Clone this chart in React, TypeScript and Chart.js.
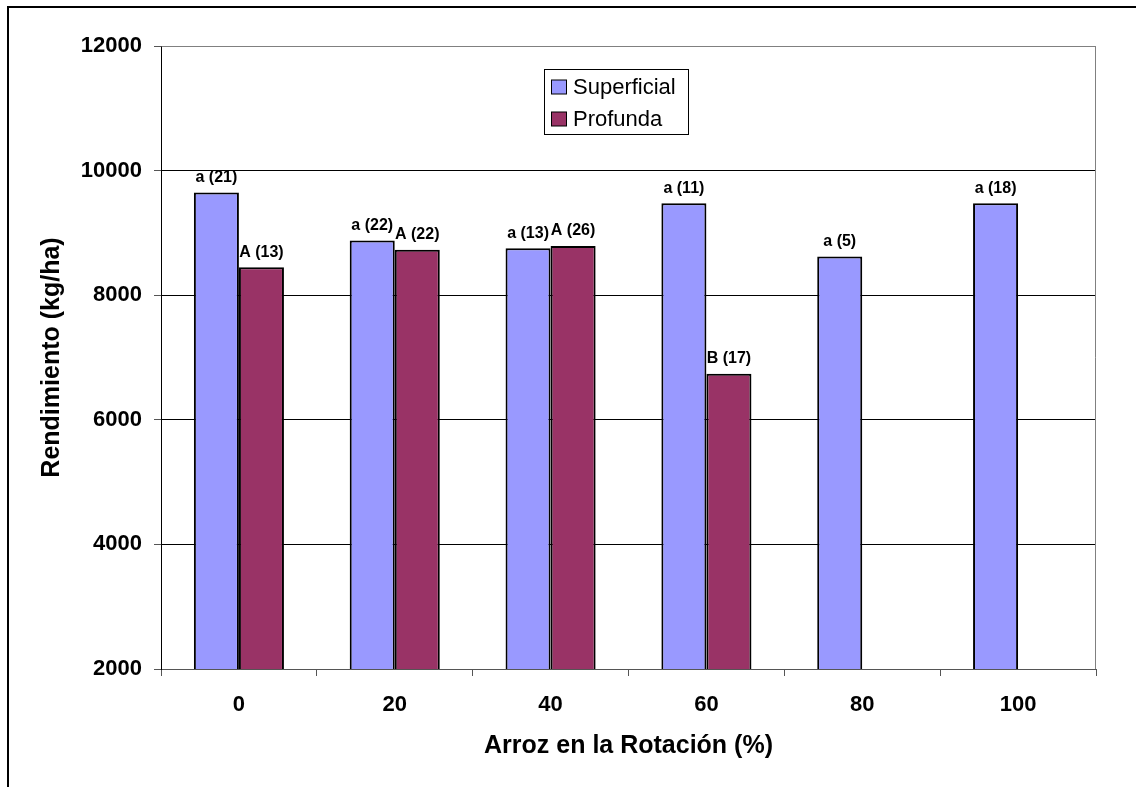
import { useEffect, useRef } from 'react';
import { Chart, registerables } from 'chart.js';

Chart.register(...registerables);

const categories = ['0', '20', '40', '60', '80', '100'];
const seriesNames = ['Superficial', 'Profunda'];
const superficial = [9650, 8880, 8755, 9475, 8620, 9475];
const profunda: (number | null)[] = [8450, 8730, 8790, 6740, null, null];
const superficialLabels = ['a (21)', 'a (22)', 'a (13)', 'a (11)', 'a (5)', 'a (18)'];
const profundaLabels = ['A (13)', 'A (22)', 'A (26)', 'B (17)', '', ''];
const yMin = 2000;
const yMax = 12000;
const yStep = 2000;
const xTitle = 'Arroz en la Rotación (%)';
const yTitle = 'Rendimiento (kg/ha)';
const seriesColors = ['#9999FF', '#993366'];

const FONT = "'Liberation Sans', Arial, sans-serif";

const framePlugin = {
  id: 'frame',
  beforeDraw(chart: any) {
    const ctx = chart.ctx;
    ctx.save();
    ctx.fillStyle = '#ffffff';
    ctx.fillRect(0, 0, chart.width, chart.height);
    ctx.strokeStyle = '#000';
    ctx.lineWidth = 2;
    ctx.strokeRect(8, 7, 2000, 2000);
    ctx.restore();
  },
  afterDraw(chart: any) {
    const ctx = chart.ctx;
    const a = chart.chartArea;
    ctx.save();
    ctx.strokeStyle = '#808080';
    ctx.lineWidth = 1;
    ctx.beginPath();
    ctx.moveTo(Math.round(a.left) + 0.5, Math.round(a.top) + 0.5);
    ctx.lineTo(Math.round(a.right) - 0.5, Math.round(a.top) + 0.5);
    ctx.lineTo(Math.round(a.right) - 0.5, Math.round(a.bottom));
    ctx.stroke();

    // data labels
    const labelSets = [superficialLabels, profundaLabels];
    ctx.fillStyle = '#000';
    ctx.font = `bold 16px ${FONT}`;
    ctx.textAlign = 'center';
    ctx.textBaseline = 'middle';
    chart.data.datasets.forEach((ds: any, di: number) => {
      const meta = chart.getDatasetMeta(di);
      meta.data.forEach((bar: any, i: number) => {
        const v = ds.data[i];
        const t = labelSets[di][i];
        if (v == null || !t) return;
        ctx.fillText(t, bar.x, bar.y - 15);
      });
    });

    // legend
    const lx = 544.5, ly = 69.5, lw = 144, lh = 65;
    ctx.fillStyle = '#fff';
    ctx.fillRect(lx, ly, lw, lh);
    ctx.strokeStyle = '#000';
    ctx.lineWidth = 1;
    ctx.strokeRect(lx, ly, lw, lh);
    ctx.font = `22px ${FONT}`;
    ctx.textAlign = 'left';
    ctx.textBaseline = 'middle';
    seriesNames.forEach((name, i) => {
      const cy = 87 + i * 32;
      ctx.fillStyle = seriesColors[i];
      ctx.fillRect(551.5, cy - 7, 15, 14);
      ctx.strokeStyle = '#000';
      ctx.strokeRect(551.5, cy - 7, 15, 14);
      ctx.fillStyle = '#000';
      ctx.fillText(name, 573, cy + 1);
    });
    ctx.restore();
  },
};

export default function App() {
  const ref = useRef<HTMLCanvasElement>(null);
  useEffect(() => {
    if (!ref.current) return;
    const chart = new Chart(ref.current, {
      type: 'bar',
      data: {
        labels: categories,
        datasets: [
          {
            label: seriesNames[0],
            data: superficial,
            backgroundColor: seriesColors[0],
            borderColor: '#000',
            borderWidth: 2,
            categoryPercentage: 0.578,
            barPercentage: 1,
          },
          {
            label: seriesNames[1],
            data: profunda,
            backgroundColor: seriesColors[1],
            borderColor: '#000',
            borderWidth: 2,
            categoryPercentage: 0.578,
            barPercentage: 1,
          },
        ],
      },
      options: {
        responsive: false,
        animation: false,
        devicePixelRatio: 1,
        layout: { padding: { top: 46, right: 40, left: 0, bottom: 0 } },
        plugins: {
          legend: { display: false },
          tooltip: { enabled: false },
          title: { display: false },
        },
        scales: {
          x: {
            afterFit(scale: any) {
              scale.height = 118;
            },
            grid: {
              display: true,
              drawOnChartArea: false,
              drawTicks: true,
              tickLength: 7,
              offset: true,
              color: '#555',
            },
            border: { display: true, color: '#555', width: 1 },
            ticks: {
              color: '#000',
              padding: 16,
              font: { family: FONT, size: 22, weight: 'bold' },
              maxRotation: 0,
            },
            title: {
              display: true,
              text: xTitle,
              color: '#000',
              font: { family: FONT, size: 25, weight: 'bold' },
              padding: { top: 0, bottom: 26 },
            },
          },
          y: {
            min: yMin,
            max: yMax,
            afterFit(scale: any) {
              scale.width = 161;
            },
            grid: {
              drawTicks: true,
              tickLength: 7,
              color: (c: any) => (c.tick && c.tick.value === yMax ? '#808080' : '#000'),
              tickColor: '#555',
            },
            border: { display: true, color: '#000', width: 1 },
            ticks: {
              stepSize: yStep,
              color: '#000',
              padding: 12,
              font: { family: FONT, size: 22, weight: 'bold' },
              callback: (v: any) => String(v),
            },
            title: {
              display: true,
              text: yTitle,
              color: '#000',
              font: { family: FONT, size: 25, weight: 'bold' },
              padding: { top: 37, bottom: 0 },
            },
          },
        },
      } as any,
      plugins: [framePlugin],
    });
    return () => chart.destroy();
  }, []);
  return (
    <div style={{ position: 'fixed', left: 0, top: 0, width: 1136, height: 787 }}>
      <canvas ref={ref} width={1136} height={787} style={{ display: 'block', width: 1136, height: 787 }} />
    </div>
  );
}
